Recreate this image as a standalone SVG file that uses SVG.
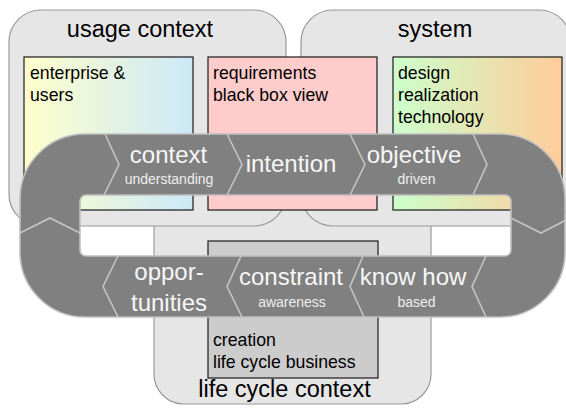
<svg xmlns="http://www.w3.org/2000/svg" width="566" height="408" viewBox="0 0 566 408">
  <defs>
    <linearGradient id="gEnt" x1="0" y1="0" x2="1" y2="0">
      <stop offset="0" stop-color="#ffffcc"/>
      <stop offset="1" stop-color="#cce8f8"/>
    </linearGradient>
    <linearGradient id="gDes" x1="0" y1="0" x2="1" y2="0">
      <stop offset="0" stop-color="#ccffcc"/>
      <stop offset="1" stop-color="#ffcc99"/>
    </linearGradient>
    <style>
      .ctx { fill: #e6e6e6; stroke: #999999; stroke-width: 1.2; }
      .inner { stroke: #1a1a1a; stroke-width: 1.2; }
      .hdr { font-family: "Liberation Sans", Arial, sans-serif; font-size: 23.5px; fill: #000; text-anchor: middle; }
      .txt { font-family: "Liberation Sans", Arial, sans-serif; font-size: 17.7px; fill: #000; }
      .band { fill: #808080; stroke: #bfbfbf; stroke-width: 1.6; fill-rule: evenodd; }
      .chev { fill: none; stroke: #c4c4c4; stroke-width: 1.6; stroke-linejoin: miter; }
      .big { font-family: "Liberation Sans", Arial, sans-serif; font-size: 24px; fill: #f7f7f7; text-anchor: middle; }
      .small { font-family: "Liberation Sans", Arial, sans-serif; font-size: 14px; fill: #eeeeee; text-anchor: middle; }
    </style>
  </defs>

  <g id="life-cycle-context">
    <rect class="ctx" x="154" y="150" width="277" height="254" rx="30" ry="30"/>
  </g>
  <g id="usage-context">
    <rect class="ctx" x="9" y="10" width="277" height="216" rx="32" ry="32"/>
    <text class="hdr" x="140" y="37">usage context</text>
  </g>
  <g id="system">
    <rect class="ctx" x="301" y="10" width="270" height="216" rx="32" ry="32"/>
    <text class="hdr" x="435" y="37">system</text>
  </g>

  <g id="enterprise-users">
    <rect class="inner" x="24" y="57" width="169" height="153" fill="url(#gEnt)"/>
    <text class="txt" x="30" y="79">enterprise &amp;</text>
    <text class="txt" x="30" y="101">users</text>
  </g>
  <g id="requirements">
    <rect class="inner" x="208" y="57" width="169" height="153" fill="#ffcccc"/>
    <text class="txt" x="213" y="79">requirements</text>
    <text class="txt" x="213" y="101">black box view</text>
  </g>
  <g id="design">
    <rect class="inner" x="393" y="57" width="169" height="153" fill="url(#gDes)"/>
    <text class="txt" x="398" y="79">design</text>
    <text class="txt" x="398" y="101">realization</text>
    <text class="txt" x="398" y="123">technology</text>
  </g>
  <g id="creation">
    <rect class="inner" x="208" y="241" width="170" height="137" fill="#cccccc"/>
    <text class="txt" x="213" y="346">creation</text>
    <text class="txt" x="213" y="368">life cycle business</text>
  </g>
  <g id="life-cycle-label">
    <text class="hdr" x="284.5" y="397">life cycle context</text>
  </g>

  <g id="connectors">
    <path class="band" d="M85,134 H500 A65,65 0 0 1 565,199 V252 A65,65 0 0 1 500,317 H85 A65,65 0 0 1 20,252 V199 A65,65 0 0 1 85,134 Z M86,195 H505 A6,6 0 0 1 511,201 V250 A6,6 0 0 1 505,256 H86 A6,6 0 0 1 80,250 V201 A6,6 0 0 1 86,195 Z"/>
    <path class="chev" d="M105,134 L119,164.5 L104,195"/>
    <path class="chev" d="M227,134 L242,164.5 L227,195"/>
    <path class="chev" d="M350,134 L365,164.5 L350,195"/>
    <path class="chev" d="M473,134 L487,164.5 L473,195"/>
    <path class="chev" d="M118,256 L103,286.5 L118,317"/>
    <path class="chev" d="M241,256 L227,286.5 L242,317"/>
    <path class="chev" d="M363,256 L350,286.5 L364,317"/>
    <path class="chev" d="M486,256 L472,286.5 L486,317"/>
    <path class="chev" d="M20,233 L50,218 L80,233"/>
    <path class="chev" d="M511,218 L541,233 L566,220"/>
  </g>

  <g id="stage-context">
    <text class="big" x="168.5" y="163">context</text>
    <text class="small" x="169" y="184">understanding</text>
  </g>
  <g id="stage-intention">
    <text class="big" x="291" y="172">intention</text>
  </g>
  <g id="stage-objective">
    <text class="big" x="414" y="163">objective</text>
    <text class="small" x="416.5" y="184">driven</text>
  </g>
  <g id="stage-opportunities">
    <text class="big" x="169" y="280">oppor-</text>
    <text class="big" x="169" y="311">tunities</text>
  </g>
  <g id="stage-constraint">
    <text class="big" x="291" y="285">constraint</text>
    <text class="small" x="292" y="307">awareness</text>
  </g>
  <g id="stage-knowhow">
    <text class="big" x="413" y="285">know how</text>
    <text class="small" x="416.5" y="307">based</text>
  </g>
</svg>
